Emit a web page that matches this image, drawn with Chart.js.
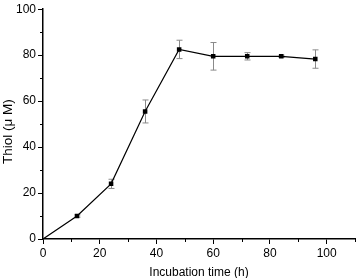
<!DOCTYPE html>
<html>
<head>
<meta charset="utf-8">
<script src="https://cdn.jsdelivr.net/npm/chart.js@4"></script>
<style>
  html, body { margin: 0; padding: 0; background: #fff; }
  #wrap { width: 359px; height: 278px; }
</style>
</head>
<body>
<div id="wrap"><canvas id="chart" width="359" height="278"></canvas></div>
<script>
const hours = [0, 12, 24, 36, 48, 60, 72, 84, 96];
const thiol = [0, 10, 24, 55.5, 82.5, 79.5, 79.5, 79.5, 78.3];
const thiolErr = [0, 0.5, 2, 5, 4, 6, 1.6, 0.5, 4];
const xTicks = [0, 20, 40, 60, 80, 100];
const yTicks = [0, 20, 40, 60, 80, 100];

const fontFamily = '"Liberation Sans", Arial, sans-serif';

// Fehlerbalken und kleine Nebenstriche zeichnen
const extras = {
    id: 'extras',
    beforeDatasetsDraw(chart) {
        const ctx = chart.ctx;
        const xs = chart.scales.x, ys = chart.scales.y;
        ctx.save();
        ctx.strokeStyle = '#8a8a8a';
        ctx.lineWidth = 1;
        hours.forEach((h, i) => {
            const e = thiolErr[i];
            if (!e) return;
            const px = Math.round(xs.getPixelForValue(h)) + 0.5;
            const top = ys.getPixelForValue(thiol[i] + e);
            const bot = ys.getPixelForValue(thiol[i] - e);
            ctx.beginPath();
            ctx.moveTo(px, top); ctx.lineTo(px, bot);
            ctx.moveTo(px - 3, top); ctx.lineTo(px + 3, top);
            ctx.moveTo(px - 3, bot); ctx.lineTo(px + 3, bot);
            ctx.stroke();
        });
        ctx.restore();
    },
    afterDraw(chart) {
        const ctx = chart.ctx;
        const xs = chart.scales.x, ys = chart.scales.y;
        const area = chart.chartArea;
        ctx.save();
        ctx.strokeStyle = '#000';
        ctx.lineWidth = 1;
        ctx.beginPath();
        for (let v = 10; v <= 110; v += 20) {
            const px = Math.round(xs.getPixelForValue(v)) + 0.5;
            ctx.moveTo(px, area.bottom); ctx.lineTo(px, area.bottom + 3);
        }
        for (let v = 10; v <= 90; v += 20) {
            const py = Math.round(ys.getPixelForValue(v)) + 0.5;
            ctx.moveTo(area.left, py); ctx.lineTo(area.left - 3, py);
        }
        ctx.stroke();
        ctx.restore();
    }
};

new Chart(document.getElementById('chart').getContext('2d'), {
    type: 'line',
    data: {
        datasets: [{
            data: hours.map((h, i) => ({ x: h, y: thiol[i] })),
            borderColor: '#000',
            borderWidth: 1.2,
            backgroundColor: '#000',
            pointStyle: 'rect',
            pointRadius: hours.map(h => h === 0 ? 0 : 3.2),
            pointBorderWidth: 0,
            tension: 0
        }]
    },
    options: {
        responsive: false,
        animation: false,
        layout: { padding: { top: 7, right: 2, left: 0, bottom: 0 } },
        plugins: { legend: { display: false }, tooltip: { enabled: false } },
        scales: {
            x: {
                type: 'linear',
                min: 0, max: 110,
                afterBuildTicks: s => { s.ticks = xTicks.map(v => ({ value: v })); },
                afterFit: s => { s.height = 39; },
                grid: { drawOnChartArea: false, tickLength: 5, color: '#000', tickWidth: 1 },
                border: { color: '#000', width: 1.5 },
                ticks: { color: '#000', font: { family: fontFamily, size: 12 }, padding: 2, maxRotation: 0 },
                title: { display: true, text: 'Incubation time (h)', color: '#000', font: { family: fontFamily, size: 12 }, padding: { top: 4, bottom: -2 } }
            },
            y: {
                type: 'linear',
                min: 0, max: 100,
                afterBuildTicks: s => { s.ticks = yTicks.map(v => ({ value: v })); },
                afterFit: s => { s.width = 43; },
                grid: { drawOnChartArea: false, tickLength: 5, color: '#000', tickWidth: 1 },
                border: { color: '#000', width: 1.5 },
                ticks: { color: '#000', font: { family: fontFamily, size: 12 }, padding: 2 },
                title: { display: true, text: 'Thiol (μ M)    ', color: '#000', font: { family: fontFamily, size: 13.5 }, padding: { top: 0, bottom: 2 } }
            }
        }
    },
    plugins: [extras]
});
</script>
</body>
</html>
